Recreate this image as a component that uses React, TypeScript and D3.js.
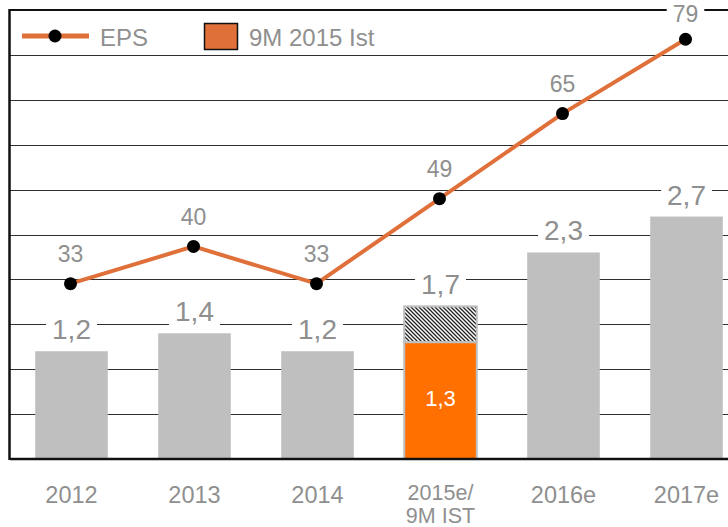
import React from "react";
import * as d3 from "d3";

const categories = ["2012", "2013", "2014", "2015e", "2016e", "2017e"];
const categoryLabels = [["2012"], ["2013"], ["2014"], ["2015e/", "9M IST"], ["2016e"], ["2017e"]];
const barValues = [1.2, 1.4, 1.2, 1.7, 2.3, 2.7];
const barLabels = ["1,2", "1,4", "1,2", "1,7", "2,3", "2,7"];
const actual9M = 1.3;
const actual9MLabel = "1,3";
const epsValues = [33, 40, 33, 49, 65, 79];
const gridTicks = [0.5, 1, 1.5, 2, 2.5, 3, 3.5, 4, 4.5];

const W = 728;
const H = 527;
const left = 10;
const top = 10;
const bottom = 459;

const FONT = "'Liberation Sans', Arial, Helvetica, sans-serif";
const NARROW = "'Liberation Sans Narrow', 'Arial Narrow', 'Liberation Sans', Arial, sans-serif";
const GRAY_TEXT = "#8f8f8f";
const BAR_GRAY = "#bfbfbf";
const LINE_COLOR = "#e0703a";
const ORANGE = "#ff7000";

function textWidth(s: string, size: number) {
  let w = 0;
  for (const ch of s) {
    if (ch === "," || ch === "." || ch === " ") w += 0.278;
    else w += 0.556;
  }
  return w * size;
}

export default function App() {
  const x = d3.scaleBand<string>().domain(categories).range([left, left + 738]).paddingInner(0.41).paddingOuter(0.205);
  const yBar = d3.scaleLinear().domain([0, 5]).range([bottom, top]);
  const yEps = d3.scaleLinear().domain([0, 84.5]).range([bottom, top]);
  const bw = x.bandwidth();
  const cx = (c: string) => (x(c) as number) + bw / 2;
  const px = (i: number) => cx(categories[i]) - 1;

  const line = d3
    .line<number>()
    .x((_, i) => px(i))
    .y((d) => yEps(d));

  return (
    <div style={{ position: "fixed", left: 0, top: 0 }}>
      <svg width={W} height={H} style={{ display: "block", background: "#fff" }}>
        <defs>
          <pattern id="hatch" patternUnits="userSpaceOnUse" width="4" height="4">
            <rect width="4" height="4" fill="#fff" />
            <path d="M-1,3 L1,5 M0,0 L4,4 M3,-1 L5,1" stroke="#222" strokeWidth="1.3" />
          </pattern>
        </defs>

        {gridTicks.map((t) => (
          <line key={t} x1={left} x2={W} y1={Math.round(yBar(t)) + 0.5} y2={Math.round(yBar(t)) + 0.5} stroke="#2e2e2e" strokeWidth={1.2} />
        ))}
        <line x1={left} x2={W} y1={top} y2={top} stroke="#111" strokeWidth={2.2} />
        <line x1={9.5} x2={9.5} y1={top - 1} y2={bottom + 1} stroke="#111" strokeWidth={2.5} />

        {categories.map((c, i) => {
          if (c === "2015e") {
            return (
              <g key={c}>
                <rect x={x(c)} y={yBar(barValues[i])} width={bw} height={yBar(actual9M) - yBar(barValues[i])} fill="url(#hatch)" stroke={BAR_GRAY} strokeWidth={2} />
                <rect x={x(c)} y={yBar(actual9M)} width={bw} height={bottom - yBar(actual9M)} fill={ORANGE} stroke={BAR_GRAY} strokeWidth={2} />
              </g>
            );
          }
          return <rect key={c} x={x(c)} y={yBar(barValues[i])} width={bw} height={bottom - yBar(barValues[i])} fill={BAR_GRAY} />;
        })}

        <line x1={left} x2={W} y1={bottom} y2={bottom} stroke="#111" strokeWidth={2.5} />

        {categories.map((c, i) => {
          const w = textWidth(barLabels[i], 28);
          const by = yBar(barValues[i]) - 12;
          return (
            <g key={c}>
              <rect x={cx(c) - w / 2 - 6} y={by - 24} width={w + 12} height={30} fill="#fff" />
              <text x={cx(c)} y={by} textAnchor="middle" fontFamily={FONT} fontSize={28} fill={GRAY_TEXT}>
                {barLabels[i]}
              </text>
            </g>
          );
        })}
        <text x={cx("2015e")} y={yBar(0.6) + 1} textAnchor="middle" fontFamily={FONT} fontSize={22} fill="#fff">
          {actual9MLabel}
        </text>

        <path d={line(epsValues) || ""} fill="none" stroke={LINE_COLOR} strokeWidth={4} />
        {epsValues.map((v, i) => (
          <circle key={i} cx={px(i)} cy={yEps(v)} r={6.5} fill="#000" />
        ))}
        {epsValues.map((v, i) => {
          const s = String(v);
          const w = textWidth(s, 23);
          const by = Math.max(21.5, yEps(v) - 21.5);
          return (
            <g key={"l" + i}>
              <rect x={px(i) - w / 2 - 6} y={by - 18} width={w + 12} height={22} fill="#fff" />
              <text x={px(i)} y={by} textAnchor="middle" fontFamily={FONT} fontSize={23} fill={GRAY_TEXT}>
                {s}
              </text>
            </g>
          );
        })}

        {categories.map((c, i) => {
          const lines = categoryLabels[i];
          if (lines.length === 1) {
            return (
              <text key={c} x={cx(c)} y={503} textAnchor="middle" fontFamily={FONT} fontSize={23.5} fill={GRAY_TEXT}>
                {lines[0]}
              </text>
            );
          }
          return (
            <text key={c} x={cx(c)} textAnchor="middle" fontFamily={NARROW} fontSize={21.5} fill={GRAY_TEXT}>
              {lines.map((l, j) => (
                <tspan key={j} x={cx(c)} y={500 + j * 23}>
                  {l}
                </tspan>
              ))}
            </text>
          );
        })}

        <line x1={22} x2={89} y1={36} y2={36} stroke={LINE_COLOR} strokeWidth={5} />
        <circle cx={55} cy={36} r={6.5} fill="#000" />
        <text x={100} y={46} fontFamily={FONT} fontSize={24} fill={GRAY_TEXT}>
          EPS
        </text>
        <rect x={204.5} y={23.5} width={33} height={26} fill={LINE_COLOR} stroke="#111" strokeWidth={1.5} />
        <text x={249} y={46} fontFamily={FONT} fontSize={24} fill={GRAY_TEXT}>
          9M 2015 Ist
        </text>
      </svg>
    </div>
  );
}
